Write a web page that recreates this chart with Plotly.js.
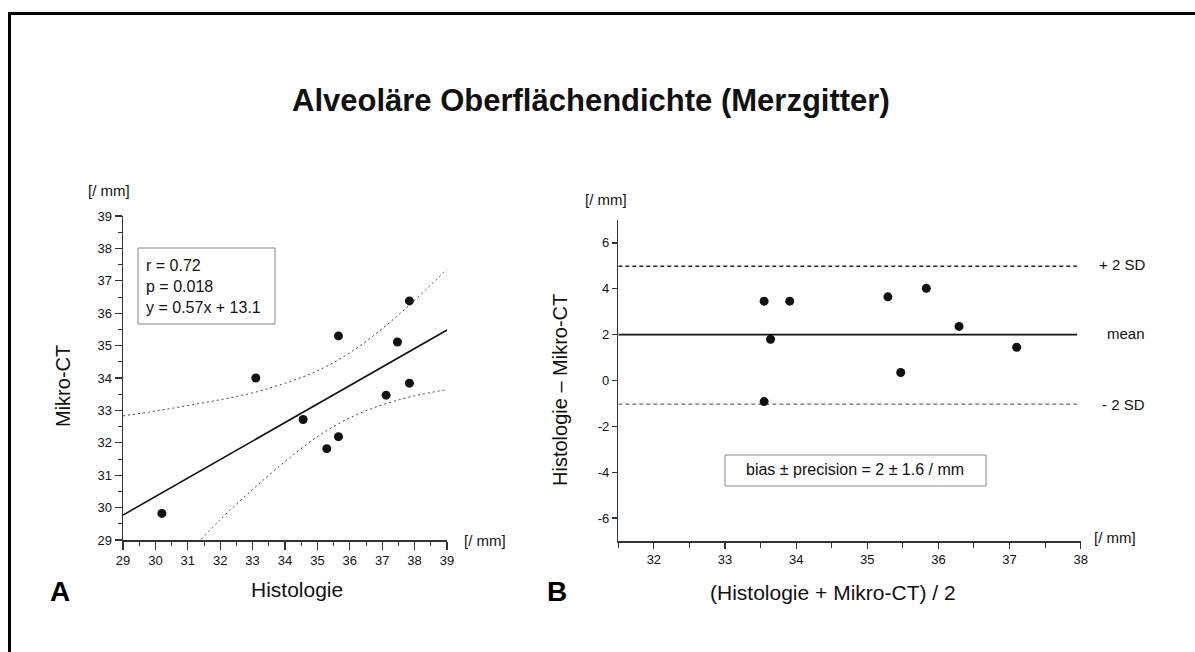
<!DOCTYPE html>
<html>
<head>
<meta charset="utf-8">
<script src="https://cdn.plot.ly/plotly-3.0.1.min.js"></script>
<style>
html,body{margin:0;padding:0;background:#fff;}
#chart{width:1195px;height:652px;}
</style>
</head>
<body>
<div id="chart"></div>
<script>
// ---- Panel A data (Histologie vs Mikro-CT) ----
var histologie = [30.2, 33.1, 34.56, 35.29, 35.65, 35.65, 37.12, 37.47, 37.84, 37.84];
var mikroCT    = [29.82, 34.0, 32.72, 31.82, 32.19, 35.3, 33.47, 35.11, 33.84, 36.38];
// regression line y = 0.57x + 13.1 (end points as read)
var regX = [29, 39];
var regY = [29.77, 35.48];
// confidence band
var upperX = [29, 30, 31, 32, 33, 34, 35, 36, 37, 38, 39];
var upperY = [32.83, 32.98, 33.15, 33.33, 33.54, 33.84, 34.22, 34.78, 35.52, 36.4, 37.36];
var lowerX = [31.41, 32, 33, 34, 35, 36, 37, 38, 39];
var lowerY = [29.02, 29.63, 30.56, 31.42, 32.19, 32.77, 33.17, 33.45, 33.64];

// ---- Panel B data (Bland-Altman) ----
var baMean = [33.55, 33.64, 33.55, 33.91, 35.47, 35.29, 36.29, 35.83, 37.1];
var baDiff = [-0.92, 1.8, 3.46, 3.46, 0.35, 3.65, 2.36, 4.02, 1.45];
var limitX = [31.5, 37.95];
var meanLine = 2.0;
var upperLimit = 4.98;
var lowerLimit = -1.03;
var bYTickVals = [-6, -4, -2, 0, 2, 4, 6];
var bYTickText = ['-6', '-4', '-2', '0', '2', '4', '6'];

var W = 1195, H = 652;
function px(x){ return x / W; }
function py(y){ return 1 - y / H; }

var FONT = 'Liberation Sans, Arial, Helvetica, sans-serif';
var INK = '#111111';
var AX = '#333333';

var traces = [
  {x: upperX, y: upperY, xaxis:'x', yaxis:'y', mode:'lines', line:{color:'#444', width:1, dash:'2px,3px', shape:'spline'}, hoverinfo:'skip'},
  {x: lowerX, y: lowerY, xaxis:'x', yaxis:'y', mode:'lines', line:{color:'#444', width:1, dash:'2px,3px', shape:'spline'}, hoverinfo:'skip'},
  {x: regX, y: regY, xaxis:'x', yaxis:'y', mode:'lines', line:{color:'#111', width:1.6}, hoverinfo:'skip'},
  {x: histologie, y: mikroCT, xaxis:'x', yaxis:'y', mode:'markers', marker:{color:'#111', size:9}},
  {x: limitX, y: [upperLimit, upperLimit], xaxis:'x2', yaxis:'y2', mode:'lines', line:{color:'#222', width:1.6, dash:'4px,3px'}, hoverinfo:'skip'},
  {x: limitX, y: [meanLine, meanLine], xaxis:'x2', yaxis:'y2', mode:'lines', line:{color:'#111', width:1.8}, hoverinfo:'skip'},
  {x: limitX, y: [lowerLimit, lowerLimit], xaxis:'x2', yaxis:'y2', mode:'lines', line:{color:'#444', width:1, dash:'4px,3px'}, hoverinfo:'skip'},
  {x: baMean, y: baDiff, xaxis:'x2', yaxis:'y2', mode:'markers', marker:{color:'#111', size:9}}
];

function axisBase(extra){
  var a = {
    ticks:'outside', tickcolor:AX, tickwidth:1.2, showline:true, linecolor:AX, linewidth:1.5,
    showgrid:false, zeroline:false, fixedrange:true,
    tickfont:{family:FONT, size:13, color:INK}
  };
  for (var k in extra) a[k] = extra[k];
  return a;
}

var layout = {
  width: W, height: H,
  margin:{l:0, r:0, t:0, b:0},
  paper_bgcolor:'#ffffff', plot_bgcolor:'rgba(0,0,0,0)',
  showlegend:false,
  font:{family:FONT, color:INK},
  xaxis: axisBase({domain:[px(123), px(447)], range:[29,39], tick0:29, dtick:1, ticklen:8, anchor:'y',
    minor:{tick0:29, dtick:0.5, ticks:'outside', ticklen:4, tickcolor:AX, tickwidth:1, showgrid:false}}),
  yaxis: axisBase({domain:[py(540), py(216)], range:[29,39], tick0:29, dtick:1, ticklen:7, anchor:'x',
    minor:{tick0:29, dtick:0.5, ticks:'outside', ticklen:4, tickcolor:AX, tickwidth:1, showgrid:false}}),
  xaxis2: axisBase({domain:[px(618.3), px(1080.7)], range:[31.5,38], tick0:32, dtick:1, ticklen:6, anchor:'y2',
    minor:{tick0:31.5, dtick:0.5, ticks:'outside', ticklen:5, tickcolor:AX, tickwidth:1, showgrid:false}}),
  yaxis2: axisBase({domain:[py(541), py(220)], range:[-7,7], tickmode:'array', tickvals:bYTickVals, ticktext:bYTickText, ticklen:5, anchor:'x2'}),
  shapes: [
    {type:'line', xref:'paper', yref:'paper', x0:px(8), x1:px(1195), y0:py(13.5), y1:py(13.5), line:{color:'#000', width:3}},
    {type:'line', xref:'paper', yref:'paper', x0:px(9.5), x1:px(9.5), y0:py(12), y1:py(652), line:{color:'#000', width:3}},
    {type:'rect', xref:'paper', yref:'paper', x0:px(138), x1:px(275), y0:py(248), y1:py(324), line:{color:'#888', width:1}},
    {type:'rect', xref:'paper', yref:'paper', x0:px(725), x1:px(986), y0:py(455), y1:py(486), line:{color:'#888', width:1}}
  ],
  annotations: [
    {xref:'paper', yref:'paper', x:px(591), y:py(100), text:'<b>Alveoläre Oberflächendichte (Merzgitter)</b>', showarrow:false, xanchor:'center', yanchor:'middle', font:{family:FONT, size:31, color:INK}},
    // Panel A
    {xref:'paper', yref:'paper', x:px(109), y:py(190), text:'[/ mm]', showarrow:false, xanchor:'center', yanchor:'middle', font:{family:FONT, size:15, color:INK}},
    {xref:'paper', yref:'paper', x:px(63), y:py(386), text:'Mikro-CT', textangle:-90, showarrow:false, xanchor:'center', yanchor:'middle', font:{family:FONT, size:20, color:INK}},
    {xref:'paper', yref:'paper', x:px(297), y:py(589), text:'Histologie', showarrow:false, xanchor:'center', yanchor:'middle', font:{family:FONT, size:21, color:INK}},
    {xref:'paper', yref:'paper', x:px(60), y:py(591), text:'<b>A</b>', showarrow:false, xanchor:'center', yanchor:'middle', font:{family:FONT, size:28, color:'#000'}},
    {xref:'paper', yref:'paper', x:px(485), y:py(540), text:'[/ mm]', showarrow:false, xanchor:'center', yanchor:'middle', font:{family:FONT, size:15, color:INK}},
    {xref:'paper', yref:'paper', x:px(144), y:py(265), text:'r = 0.72', showarrow:false, xanchor:'left', yanchor:'middle', font:{family:FONT, size:16, color:INK}},
    {xref:'paper', yref:'paper', x:px(144), y:py(286), text:'p = 0.018', showarrow:false, xanchor:'left', yanchor:'middle', font:{family:FONT, size:16, color:INK}},
    {xref:'paper', yref:'paper', x:px(144), y:py(307), text:'y = 0.57x + 13.1', showarrow:false, xanchor:'left', yanchor:'middle', font:{family:FONT, size:16, color:INK}},
    // Panel B
    {xref:'paper', yref:'paper', x:px(606), y:py(199), text:'[/ mm]', showarrow:false, xanchor:'center', yanchor:'middle', font:{family:FONT, size:15, color:INK}},
    {xref:'paper', yref:'paper', x:px(560), y:py(390), text:'Histologie – Mikro-CT', textangle:-90, showarrow:false, xanchor:'center', yanchor:'middle', font:{family:FONT, size:20, color:INK}},
    {xref:'paper', yref:'paper', x:px(833), y:py(592), text:'(Histologie + Mikro-CT) / 2', showarrow:false, xanchor:'center', yanchor:'middle', font:{family:FONT, size:21, color:INK}},
    {xref:'paper', yref:'paper', x:px(557), y:py(591), text:'<b>B</b>', showarrow:false, xanchor:'center', yanchor:'middle', font:{family:FONT, size:28, color:'#000'}},
    {xref:'paper', yref:'paper', x:px(1115), y:py(537), text:'[/ mm]', showarrow:false, xanchor:'center', yanchor:'middle', font:{family:FONT, size:15, color:INK}},
    {xref:'paper', yref:'paper', x:px(855), y:py(470), text:'bias ± precision = 2 ± 1.6 / mm', showarrow:false, xanchor:'center', yanchor:'middle', font:{family:FONT, size:16, color:INK}},
    {xref:'paper', yref:'paper', x:px(1147), y:py(264), text:'+ 2 SD', showarrow:false, xanchor:'right', yanchor:'middle', font:{family:FONT, size:15, color:INK}},
    {xref:'paper', yref:'paper', x:px(1147), y:py(333), text:'mean', showarrow:false, xanchor:'right', yanchor:'middle', font:{family:FONT, size:15, color:INK}},
    {xref:'paper', yref:'paper', x:px(1147), y:py(404), text:'- 2 SD', showarrow:false, xanchor:'right', yanchor:'middle', font:{family:FONT, size:15, color:INK}}
  ]
};

Plotly.newPlot('chart', traces, layout, {staticPlot:true, displayModeBar:false});
</script>
</body>
</html>
